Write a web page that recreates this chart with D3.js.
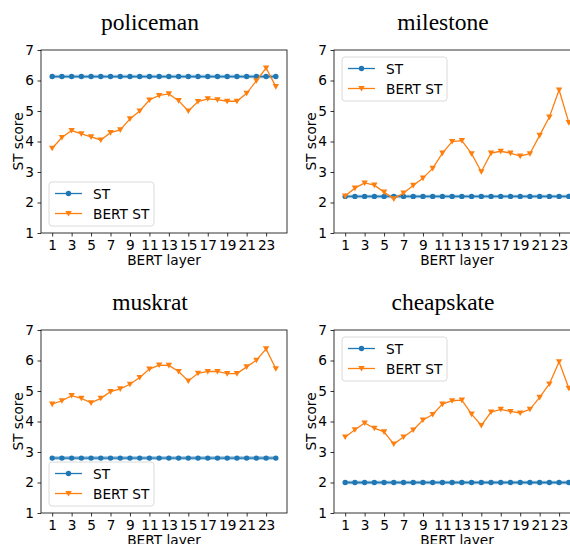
<!DOCTYPE html>
<html>
<head>
<meta charset="utf-8">
<script src="https://cdn.jsdelivr.net/npm/d3@7"></script>
<style>
  body { margin: 0; background: #fff; }
  svg { display: block; }
  .tick text { font-family: "DejaVu Sans", sans-serif; font-size: 13.7px; fill: #000; }
  .tick line { stroke: #000; stroke-width: 0.8; }
</style>
</head>
<body>
<svg id="chart" width="570" height="544"></svg>
<script>
// BERT layers on the x axis
const layers = [1, 2, 3, 4, 5, 6, 7, 8, 9, 10, 11, 12, 13, 14, 15, 16, 17, 18, 19, 20, 21, 22, 23, 24]
const xTicks = [1, 3, 5, 7, 9, 11, 13, 15, 17, 19, 21, 23]
const yTicks = [1, 2, 3, 4, 5, 6, 7]

// One word per panel
const words = ["policeman", "milestone", "muskrat", "cheapskate"]

// Flat ST score (same for every layer)
const stScores = [6.13, 2.20, 2.80, 2.00]

// BERT ST score per layer, one array per word
const policeman = [3.78, 4.13, 4.36, 4.25, 4.15, 4.05, 4.29, 4.38, 4.74, 5.00, 5.36, 5.51,
                   5.56, 5.34, 5.00, 5.31, 5.40, 5.37, 5.32, 5.32, 5.58, 5.99, 6.41, 5.80]
const milestone = [2.21, 2.47, 2.64, 2.57, 2.34, 2.12, 2.31, 2.56, 2.80, 3.12, 3.62, 4.00,
                   4.03, 3.60, 3.01, 3.62, 3.68, 3.62, 3.52, 3.60, 4.20, 4.80, 5.69, 4.62]
const muskrat = [4.57, 4.68, 4.85, 4.76, 4.61, 4.76, 4.98, 5.07, 5.22, 5.44, 5.72, 5.85,
                 5.84, 5.64, 5.33, 5.58, 5.64, 5.64, 5.57, 5.57, 5.79, 6.01, 6.38, 5.73]
const cheapskate = [3.49, 3.73, 3.95, 3.78, 3.66, 3.26, 3.49, 3.72, 4.05, 4.23, 4.57, 4.68,
                    4.70, 4.24, 3.87, 4.31, 4.40, 4.33, 4.28, 4.40, 4.79, 5.23, 5.96, 5.09]
const bertScores = [policeman, milestone, muskrat, cheapskate]

// Where the legend sits in each panel
const legendSpots = ["lower", "upper", "lower", "upper"]

const blue = "#1f77b4", orange = "#ff7f0e"
const svg = d3.select("#chart")

// Panel geometry (matplotlib-like 2x2 grid, right column clipped by the page)
const panelW = 246, panelH = 183
const panelPos = [[41, 50], [334, 50], [41, 330], [334, 330]]

// Shared scales (each panel is translated into place)
const x = d3.scaleLinear().domain([1 - 1.15, 24 + 1.15]).range([0, panelW])
const y = d3.scaleLinear().domain([1, 7]).range([panelH, 0])

const triangle = s => `M${-s},${-s * 0.8}L${s},${-s * 0.8}L0,${s * 0.95}Z`

const drawPanel = (i) => {
  const [px, py] = panelPos[i]
  const g = svg.append("g").attr("transform", `translate(${px},${py})`)

  // Title (serif, a little left of the axes centre like the original)
  g.append("text")
    .attr("x", panelW / 2 - 14).attr("y", -20)
    .attr("text-anchor", "middle")
    .style("font-family", "'Liberation Serif', 'Times New Roman', serif")
    .style("font-size", "23.5px")
    .text(words[i])

  // Axes
  g.append("g").attr("transform", `translate(0,${panelH})`)
    .call(d3.axisBottom(x).tickValues(xTicks).tickFormat(d3.format("d"))
      .tickSize(3.5).tickPadding(3.5).tickSizeOuter(0))
    .call(a => a.select(".domain").remove())
  g.append("g")
    .call(d3.axisLeft(y).tickValues(yTicks).tickFormat(d3.format("d"))
      .tickSize(3.5).tickPadding(3.5).tickSizeOuter(0))
    .call(a => a.select(".domain").remove())

  // Axis labels
  g.append("text")
    .attr("x", panelW / 2).attr("y", 32)
    .attr("transform", `translate(0,${panelH})`)
    .attr("text-anchor", "middle")
    .style("font-family", "'DejaVu Sans', sans-serif").style("font-size", "13.7px")
    .text("BERT layer")
  g.append("text")
    .attr("transform", `translate(-18,${panelH / 2}) rotate(-90)`)
    .attr("text-anchor", "middle")
    .style("font-family", "'DejaVu Sans', sans-serif").style("font-size", "13.7px")
    .text("ST score")

  // ST line: flat, drawn with a soft halo as in the picture
  const stLine = d3.line().x(d => x(d)).y(() => y(stScores[i]))
  g.append("path").datum(layers).attr("d", stLine)
    .attr("fill", "none").attr("stroke", blue).attr("stroke-opacity", 0.45).attr("stroke-width", 3.5)
  g.append("path").datum(layers).attr("d", stLine)
    .attr("fill", "none").attr("stroke", blue).attr("stroke-width", 1.3)
  g.selectAll(".st-dot").data(layers).enter().append("circle")
    .attr("class", "st-dot")
    .attr("cx", d => x(d)).attr("cy", y(stScores[i])).attr("r", 2.7)
    .attr("fill", blue)

  // BERT ST line
  const bLine = d3.line().x((d, j) => x(layers[j])).y(d => y(d))
  g.append("path").datum(bertScores[i]).attr("d", bLine)
    .attr("fill", "none").attr("stroke", orange).attr("stroke-width", 1.3)
  g.selectAll(".b-dot").data(bertScores[i]).enter().append("path")
    .attr("class", "b-dot")
    .attr("transform", (d, j) => `translate(${x(layers[j])},${y(d)})`)
    .attr("d", triangle(3.2))
    .attr("fill", orange)

  // Frame
  g.append("rect").attr("width", panelW).attr("height", panelH)
    .attr("fill", "none").attr("stroke", "#000").attr("stroke-width", 0.8)

  // Legend
  const lw = 105, lh = 44
  const ly = legendSpots[i] == "upper" ? 7 : panelH - 7 - lh
  const lg = g.append("g").attr("transform", `translate(8,${ly})`)
  lg.append("rect").attr("width", lw).attr("height", lh).attr("rx", 3)
    .attr("fill", "#fff").attr("fill-opacity", 0.8).attr("stroke", "#d0d0d0").attr("stroke-width", 0.8)
  const entries = [{ name: "ST", color: blue, mark: "circle" }, { name: "BERT ST", color: orange, mark: "tri" }]
  entries.forEach((e, k) => {
    const ry = 11.5 + k * 20
    lg.append("line").attr("x1", 6).attr("x2", 33).attr("y1", ry).attr("y2", ry)
      .attr("stroke", e.color).attr("stroke-width", 1.3)
    if (e.mark == "circle") {
      lg.append("circle").attr("cx", 19.5).attr("cy", ry).attr("r", 2.7).attr("fill", e.color)
    } else {
      lg.append("path").attr("transform", `translate(19.5,${ry})`).attr("d", triangle(3.2)).attr("fill", e.color)
    }
    lg.append("text").attr("x", 44).attr("y", ry + 5)
      .style("font-family", "'DejaVu Sans', sans-serif").style("font-size", "13.7px")
      .text(e.name)
  })
}

words.forEach((w, i) => drawPanel(i))
</script>
</body>
</html>
